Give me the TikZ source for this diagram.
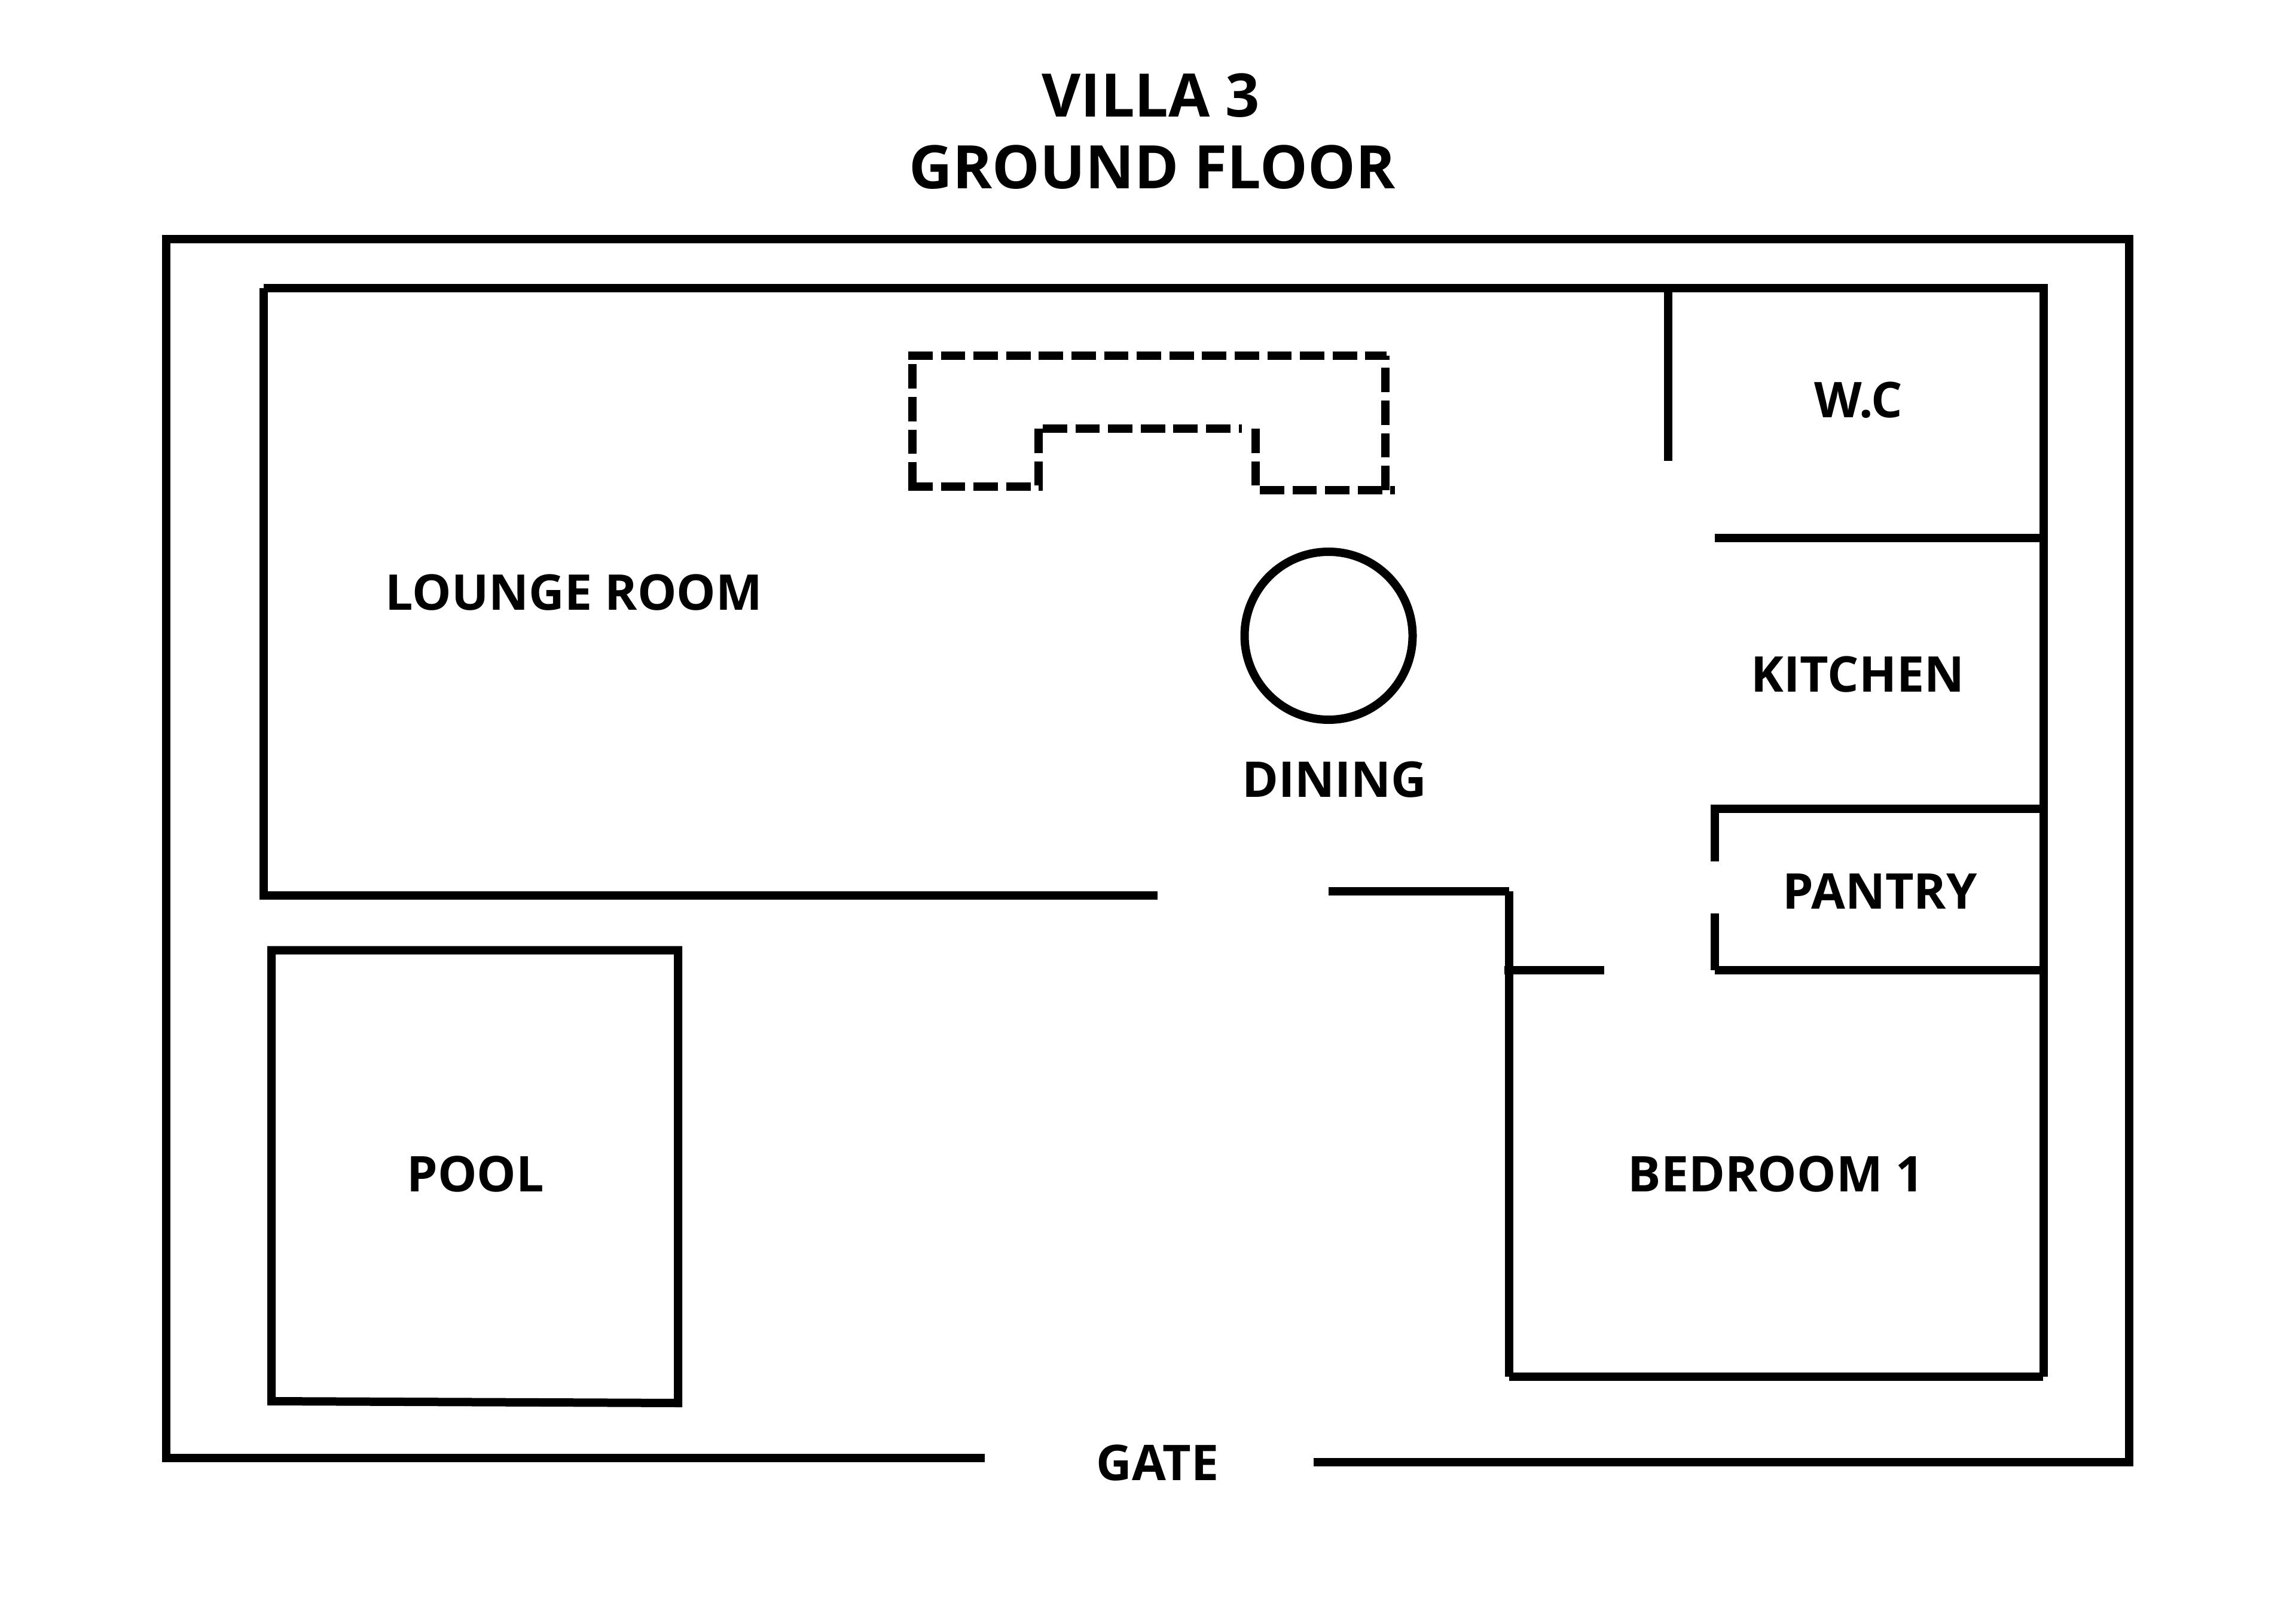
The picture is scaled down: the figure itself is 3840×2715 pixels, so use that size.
\documentclass[tikz,border=0pt]{standalone}
\usepackage{fontspec}
\setmainfont{Open Sans}

\tikzset{every picture/.style={line width=3.5pt}}
\tikzset{
	walldashed/.style={dash pattern=on 10.2pt off 3.45pt},
	roomlabel/.style={anchor=base,inner sep=0pt,font=\fontsize{20.6}{20.6}\selectfont\bfseries},
	titlelabel/.style={anchor=base,inner sep=0pt,font=\fontsize{25.1}{25.1}\selectfont\bfseries}
}

\begin{document}
\begin{tikzpicture}[x=0.25pt,y=0.25pt,yscale=-1,xscale=1]
		\useasboundingbox (0,0) rectangle (3840,2715);
		
		%Outer wall
		\draw    (1647,2439) -- (278,2439) -- (278,400) -- (3561,400) -- (3561,2445.5) -- (2197,2445.5) ;
		
		%Lounge room and house top
		\draw    (441,482) -- (441,1497.5) -- (1936,1497.5) ;
		\draw    (440.5,482) -- (3418,482) -- (3418,2302.5) ;
		
		%W.C and kitchen
		\draw    (2790,482) -- (2790,771.5) ;
		\draw    (2868,900.5) -- (3418,900.5) ;
		
		%Pantry
		\draw    (2868,1345.5) -- (2868,1440.5) ;
		\draw    (2868,1527.5) -- (2868,1622.5) ;
		\draw    (2868,1353) -- (3418,1353) ;
		\draw    (2868,1623) -- (3418,1623) ;
		
		%Bedroom
		\draw    (2222.4,1490.5) -- (2524,1490.5) ;
		\draw    (2524,1490.5) -- (2524,2302.5) ;
		\draw    (2516,1623) -- (2683,1623) ;
		\draw    (2524,2302.5) -- (3417,2302.5) ;
		
		%Pool
		\draw    (454,1589.5) -- (1134,1589.5) -- (1134,2347) -- (454,2344) -- cycle ;
		
		%Dining table
		\draw    (2222,1063.5) circle [radius=140.5] ;
		
		%Kitchen counter, dashed
		\draw [walldashed]   (1519,595) -- (2319,595) ;
		\draw [walldashed]   (1526,814) -- (1526,595) ;
		\draw [walldashed]   (1519,814) -- (1744,814) ;
		\draw [walldashed]   (1737,717) -- (1737,814) ;
		\draw [walldashed]   (1744,717) -- (2077,717) ;
		\draw [walldashed]   (2100,717) -- (2100,814) ;
		\draw [walldashed]   (2107,820) -- (2333,820) ;
		\draw [walldashed]   (2317,820) -- (2317,595) ;
		
		%Labels
		\node [titlelabel] (villa) at (1925,196) {VILLA 3};
		\node [titlelabel] (floor) at (1927,316) {GROUND FLOOR};
		\node [roomlabel] (lounge) at (960,1020) {LOUNGE ROOM};
		\node [roomlabel] (wc) at (3108,699) {W.C};
		\node [roomlabel] (kitchen) at (3107,1157) {KITCHEN};
		\node [roomlabel] (dining) at (2232,1333) {DINING};
		\node [roomlabel] (pantry) at (3144,1520) {PANTRY};
		\node [roomlabel] (pool) at (795,1993) {POOL};
		\node [roomlabel] (bedroom) at (2970,1993) {BEDROOM 1};
		\node [roomlabel] (gate) at (1936,2476) {GATE};
	\end{tikzpicture}
\end{document}
